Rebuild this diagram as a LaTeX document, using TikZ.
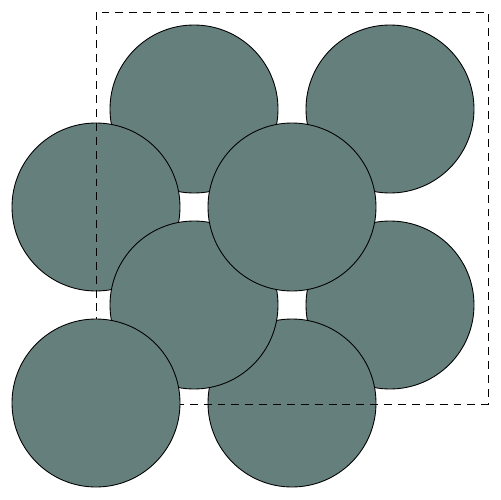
\documentclass[tikz,border=0pt]{standalone}
\definecolor{ballfill}{RGB}{101,128,124}
\begin{document}
\begin{tikzpicture}[x=0.02cm,y=-0.02cm,
  ball/.style={circle,draw=black,fill=ballfill,line width=0.5pt,minimum size=168*0.02cm,inner sep=0pt},
  cellbox/.style={draw=black,line width=0.5pt,dash pattern=on 4.5pt off 3.4pt}]
\useasboundingbox (0,0) rectangle (500,500);
\node[ball] (b1) at (194,109) {};
\node[ball] (b2) at (390,109) {};
\node[ball] (b3) at (96,207) {};
\node[ball] (b4) at (390,305) {};
\node[ball] (b5) at (292,403) {};
\node[ball] (b6) at (194,305) {};
\node[ball] (b7) at (292,207) {};
\draw[cellbox] (96,12) rectangle (488,404);
\node[ball] (b8) at (96,403) {};
\end{tikzpicture}
\end{document}
